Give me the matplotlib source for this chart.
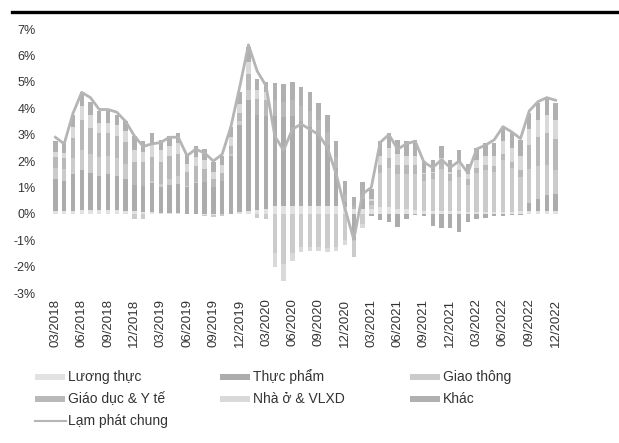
import numpy as np
import matplotlib
matplotlib.use("Agg")
import matplotlib.pyplot as plt
from matplotlib.lines import Line2D
from matplotlib.patches import Rectangle
from matplotlib.ticker import FuncFormatter, FixedLocator

plt.rcParams['font.family'] = ['Liberation Sans', 'DejaVu Sans']

# ---- data ----
months = [f"{m:02d}/{y}" for y in range(2018, 2023) for m in range(1, 13)][2:]  # 03/2018 .. 12/2022

luong_thuc = [0.10, 0.10, 0.12, 0.15, 0.15, 0.15, 0.15, 0.15, 0.12, 0.10,
              0.05, 0.05, 0.03, 0.03, 0.02, -0.02, -0.02, -0.03, -0.03, -0.02, 0.00,
              0.05, 0.10, 0.15, 0.20, 0.30, 0.30, 0.30, 0.30, 0.30, 0.30, 0.30, 0.30,
              0.25, 0.20, 0.20, 0.20, 0.25, 0.25, 0.20, 0.20, 0.15, 0.10, 0.10, 0.10, 0.10,
              0.10, 0.05, 0.05, 0.05, 0.05, 0.05, 0.05, 0.10, 0.10, 0.10, 0.10, 0.10]
thuc_pham = [1.20, 1.15, 1.40, 1.50, 1.40, 1.30, 1.35, 1.30, 1.20, 1.00,
             1.00, 1.10, 1.00, 1.05, 1.10, 1.00, 1.15, 1.20, 1.00, 1.25, 2.20,
             3.30, 4.20, 3.60, 3.50, 3.40, 3.35, 3.40, 3.20, 3.00, 2.70, 2.30, 1.45,
             0.20, -1.00, 0.35, -0.10, -0.25, -0.30, -0.50, -0.20, -0.05, -0.10, -0.45, -0.55, -0.55,
             -0.70, -0.30, -0.20, -0.15, -0.10, -0.10, -0.05, -0.05, 0.30, 0.45, 0.60, 0.65]
giao_thong = [0.45, 0.45, 0.60, 0.75, 0.70, 0.70, 0.70, 0.65, 0.55, -0.20,
              -0.20, 0.10, 0.10, 0.25, 0.30, 0.05, 0.05, -0.05, -0.10, -0.05, 0.05,
              0.15, 0.40, -0.15, -0.20, -1.50, -1.90, -1.50, -1.25, -1.25, -1.25, -1.30, -1.25,
              -1.00, -0.65, -0.40, 0.15, 1.30, 1.50, 1.30, 1.30, 1.35, 1.15, 1.20, 1.60, 1.15,
              1.30, 1.05, 1.50, 1.60, 1.55, 2.00, 1.70, 1.30, 1.30, 1.25, 1.15, 0.90]
giao_duc_y_te = [0.40, 0.40, 0.75, 1.15, 1.00, 0.90, 0.85, 0.85, 0.85, 0.85,
                 0.90, 0.90, 0.85, 0.85, 0.85, 0.55, 0.60, 0.50, 0.30, 0.30, 0.30,
                 0.30, 0.60, 0.60, 0.60, 0.60, 0.60, 0.60, 0.60, 0.60, 0.55, 0.50, 0.40,
                 0.30, 0.10, 0.15, 0.15, 0.30, 0.35, 0.35, 0.35, 0.35, 0.25, 0.25, 0.30, 0.25,
                 0.25, 0.20, 0.20, 0.20, 0.20, 0.20, 0.20, 0.25, 0.90, 1.10, 1.20, 1.20]
nha_o_vlxd = [0.20, 0.20, 0.40, 0.55, 0.50, 0.40, 0.40, 0.40, 0.40, 0.45,
              0.40, 0.45, 0.42, 0.40, 0.40, 0.30, 0.35, 0.35, 0.30, 0.30, 0.35,
              0.35, 0.45, 0.35, 0.30, -0.50, -0.65, -0.30, -0.20, -0.15, -0.15, -0.15, -0.15,
              -0.20, 0.00, -0.15, 0.05, 0.35, 0.40, 0.40, 0.35, 0.35, 0.05, 0.05, 0.10, 0.10,
              0.30, 0.20, 0.30, 0.35, 0.40, 0.50, 0.55, 0.55, 0.60, 0.65, 0.70, 0.70]
khac = [0.40, 0.40, 0.48, 0.50, 0.50, 0.45, 0.45, 0.40, 0.38, 0.55,
        0.40, 0.45, 0.40, 0.37, 0.38, 0.35, 0.40, 0.40, 0.35, 0.35, 0.40,
        0.45, 0.55, 0.40, 0.40, 0.65, 0.65, 0.70, 0.70, 0.70, 0.65, 0.65, 0.60,
        0.50, 0.35, 0.50, 0.40, 0.55, 0.55, 0.55, 0.55, 0.60, 0.45, 0.45, 0.45, 0.45,
        0.45, 0.40, 0.45, 0.50, 0.50, 0.55, 0.55, 0.60, 0.60, 0.65, 0.65, 0.65]
lam_phat_chung = [2.9, 2.65, 3.8, 4.6, 4.4, 3.95, 3.95, 3.85, 3.5, 2.95,
                  2.55, 2.65, 2.7, 2.9, 2.9, 2.2, 2.45, 2.3, 2.0, 2.25, 3.3,
                  4.8, 6.4, 5.4, 4.85, 2.95, 2.4, 3.2, 3.4, 3.2, 3.0, 2.5, 1.5,
                  0.2, -0.97, 0.75, 1.0, 2.7, 3.0, 2.45, 2.65, 2.75, 1.95, 1.75, 2.05, 1.75,
                  2.0, 1.55, 2.45, 2.6, 2.8, 3.3, 3.1, 2.85, 3.9, 4.25, 4.4, 4.3]

series_names = ["Lương thực", "Thực phẩm", "Giao thông", "Giáo dục & Y tế", "Nhà ở & VLXD", "Khác"]
line_name = "Lạm phát chung"
y_ticks = [-3, -2, -1, 0, 1, 2, 3, 4, 5, 6, 7]

# ---- style ----
colors = ["#e2e2e2", "#acacac", "#cbcbcb", "#b9b9b9", "#d9d9d9", "#b0b0b0"]
line_color = "#b5b5b5"
text_color = "#333333"

W, H = 619, 443
fig = plt.figure(figsize=(W / 100, H / 100), dpi=100)
fig.patch.set_facecolor("white")

ax = fig.add_axes([51 / W, 1 - 293 / H, 509 / W, 264 / H])
x = np.arange(len(months))
series = [luong_thuc, thuc_pham, giao_thong, giao_duc_y_te, nha_o_vlxd, khac]
pos_base = np.zeros(len(x))
neg_base = np.zeros(len(x))
for vals, col, name in zip(series, colors, series_names):
    v = np.asarray(vals, dtype=float)
    bottom = np.where(v >= 0, pos_base, neg_base)
    ax.bar(x, v, width=0.5, bottom=bottom, color=col, linewidth=0, label=name)
    pos_base += np.where(v >= 0, v, 0)
    neg_base += np.where(v < 0, v, 0)

ax.plot(x, lam_phat_chung, color=line_color, lw=2.0, solid_joinstyle="round", label=line_name)

ax.set_xlim(-0.5, len(x) - 0.5)
ax.set_ylim(min(y_ticks), max(y_ticks))
ax.yaxis.set_major_locator(FixedLocator(y_ticks))
ax.yaxis.set_major_formatter(FuncFormatter(lambda v, p: f"{v:.0f}%"))
ax.set_xticks(x[::3])
ax.set_xticklabels(months[::3], rotation=90, fontsize=9.5, color=text_color)
for lab in ax.get_yticklabels():
    lab.set_fontsize(9)
    lab.set_color(text_color)
ax.tick_params(axis="both", length=0)
ax.tick_params(axis="y", pad=11)
ax.tick_params(axis="x", pad=4)
for s in ax.spines.values():
    s.set_visible(False)
ax.set_facecolor("none")

# top rule
fig.add_artist(Line2D([12 / W, 1.0], [1 - 12 / H, 1 - 12 / H], color="black", lw=2.4))

# legend (manual, 3 columns)
col_x = [35, 220, 410]
row_y = [377, 399, 421]
entries = [(0, 0, 0), (1, 0, 1), (2, 0, 2), (3, 1, 0), (4, 1, 1), (5, 1, 2)]
for idx, r, c in entries:
    x0 = col_x[c]
    y0 = row_y[r]
    fig.add_artist(Rectangle((x0 / W, 1 - (y0 + 3) / H), 30 / W, 6 / H,
                             transform=fig.transFigure, facecolor=colors[idx], edgecolor="none"))
    fig.text((x0 + 33) / W, 1 - y0 / H, series_names[idx], fontsize=10, color=text_color,
             va="center", ha="left")
fig.add_artist(Line2D([col_x[0] / W, (col_x[0] + 31) / W], [1 - row_y[2] / H] * 2,
                      color=line_color, lw=1.5))
fig.text((col_x[0] + 33) / W, 1 - row_y[2] / H, line_name, fontsize=10, color=text_color,
         va="center", ha="left")

fig.savefig("out.png", dpi=100, facecolor="white")
